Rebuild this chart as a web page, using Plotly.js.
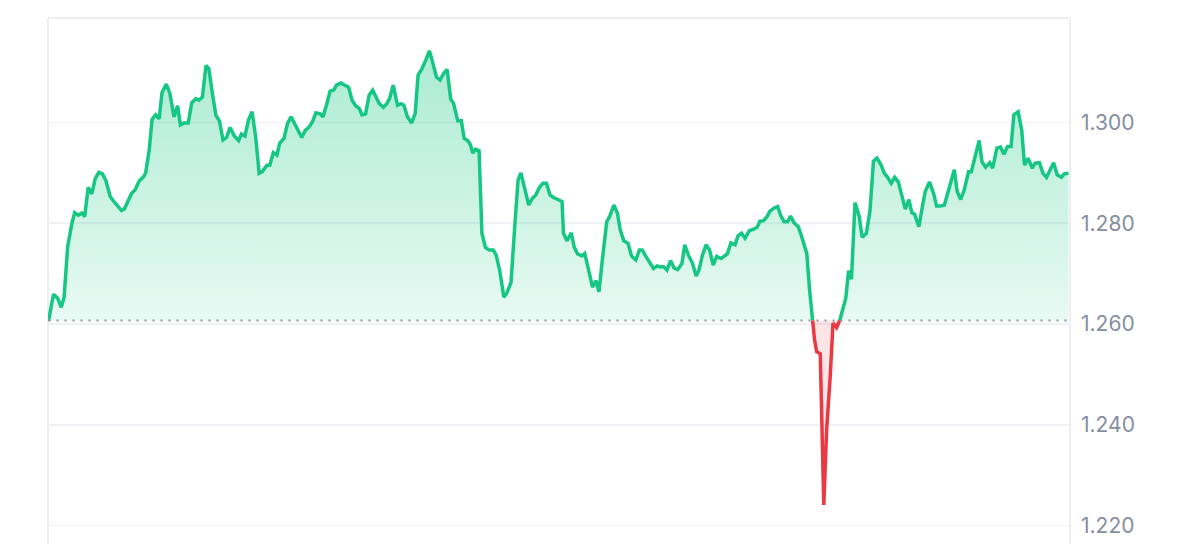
<!DOCTYPE html>
<html>
<head>
<meta charset="utf-8">
<script src="https://cdn.plot.ly/plotly-3.0.1.min.js"></script>
<style>
  html, body { margin: 0; padding: 0; background: #ffffff; }
  #chart { width: 1200px; height: 544px; }
</style>
</head>
<body>
<div id="chart"></div>
<script>
// minutes since start of the 24h window
const minutes = [
  0,7,13,18,22,27,33,37,42,47,
  51,56,61,66,71,76,81,87,91,98,
  103,107,113,117,122,128,134,137,142,146,
  151,156,160,166,171,177,182,186,191,197,
  202,208,212,217,222,226,231,236,241,246,
  251,256,262,268,272,277,282,287,292,297,
  301,308,312,317,322,326,332,337,342,348,
  352,357,362,367,372,377,383,387,392,397,
  402,406,412,417,423,428,433,438,442,447,
  452,457,461,466,472,477,481,486,492,497,
  501,506,512,517,521,526,532,537,541,547,
  552,557,562,567,571,577,582,586,591,595,
  598,602,607,611,616,621,627,631,636,642,
  646,652,657,662,666,672,677,682,687,692,
  697,702,707,712,718,724,726,731,737,741,
  746,752,756,762,767,772,776,781,787,791,
  797,802,806,811,817,822,828,833,837,843,
  849,853,858,863,867,872,877,882,887,893,
  897,902,908,913,917,922,927,932,937,942,
  948,952,957,962,968,972,977,982,988,994,
  999,1003,1008,1013,1017,1023,1028,1032,1037,1042,
  1046,1051,1057,1061,1065,1069,1073,1080,1083,1088,
  1093,1097,1102,1106,1111,1115,1119,1124,1128,1132,
  1137,1143,1147,1153,1158,1163,1168,1174,1178,1183,
  1188,1193,1198,1202,1208,1213,1217,1221,1227,1232,
  1236,1242,1248,1252,1258,1263,1267,1272,1277,1281,
  1286,1291,1297,1301,1306,1312,1316,1321,1327,1331,
  1337,1342,1347,1352,1357,1361,1367,1372,1376,1381,
  1387,1391,1397,1402,1407,1412,1417,1422,1428,1432,1438
];

const prices = [
  1.2606,1.2659,1.2651,1.2633,1.2653,1.2753,1.2800,1.2821,1.2816,1.2820,
  1.2813,1.2871,1.2858,1.2889,1.2901,1.2898,1.2884,1.2853,1.2845,1.2832,
  1.2825,1.2828,1.2847,1.2859,1.2866,1.2884,1.2892,1.2900,1.2945,1.3006,
  1.3015,1.3007,1.3059,1.3076,1.3058,1.3011,1.3033,1.2995,1.2999,1.2999,
  1.3039,1.3047,1.3044,1.3050,1.3113,1.3107,1.3058,1.3014,1.3003,1.2965,
  1.2970,1.2990,1.2973,1.2964,1.2977,1.2973,1.3005,1.3021,1.2972,1.2899,
  1.2902,1.2915,1.2915,1.2940,1.2935,1.2959,1.2968,1.2998,1.3011,1.2995,
  1.2982,1.2970,1.2984,1.2990,1.3001,1.3019,1.3017,1.3011,1.3035,1.3062,
  1.3064,1.3074,1.3078,1.3074,1.3070,1.3044,1.3033,1.3028,1.3015,1.3017,
  1.3054,1.3064,1.3052,1.3038,1.3030,1.3037,1.3048,1.3074,1.3034,1.3037,
  1.3034,1.3011,1.2999,1.3018,1.3094,1.3105,1.3124,1.3142,1.3122,1.3090,
  1.3084,1.3097,1.3105,1.3046,1.3038,1.3003,1.3003,1.2968,1.2964,1.2955,
  1.2939,1.2947,1.2944,1.2780,1.2752,1.2747,1.2747,1.2737,1.2707,1.2653,
  1.2661,1.2682,1.2787,1.2886,1.2900,1.2866,1.2836,1.2849,1.2856,1.2871,
  1.2879,1.2879,1.2856,1.2851,1.2847,1.2843,1.2780,1.2765,1.2781,1.2753,
  1.2739,1.2735,1.2740,1.2704,1.2673,1.2686,1.2664,1.2730,1.2803,1.2813,
  1.2836,1.2820,1.2787,1.2765,1.2760,1.2735,1.2727,1.2747,1.2747,1.2732,
  1.2720,1.2710,1.2715,1.2713,1.2714,1.2707,1.2726,1.2711,1.2708,1.2720,
  1.2757,1.2737,1.2720,1.2695,1.2707,1.2737,1.2757,1.2747,1.2717,1.2734,
  1.2730,1.2735,1.2739,1.2761,1.2757,1.2775,1.2780,1.2770,1.2785,1.2788,
  1.2792,1.2804,1.2805,1.2813,1.2824,1.2830,1.2833,1.2816,1.2803,1.2803,
  1.2814,1.2801,1.2793,1.2777,1.2761,1.2740,1.2667,1.2568,1.2545,1.2541,
  1.2241,1.2390,1.2495,1.2602,1.2593,1.2605,1.2624,1.2651,1.2706,1.2689,
  1.2841,1.2813,1.2772,1.2780,1.2823,1.2923,1.2929,1.2915,1.2900,1.2891,
  1.2879,1.2891,1.2882,1.2858,1.2828,1.2847,1.2821,1.2818,1.2793,1.2833,
  1.2863,1.2882,1.2858,1.2834,1.2834,1.2836,1.2858,1.2882,1.2906,1.2863,
  1.2847,1.2866,1.2902,1.2902,1.2932,1.2964,1.2922,1.2911,1.2920,1.2909,
  1.2949,1.2951,1.2937,1.2952,1.2952,1.3015,1.3021,1.2985,1.2915,1.2929,
  1.2909,1.2919,1.2920,1.2899,1.2891,1.2904,1.2920,1.2896,1.2891,1.2898,1.2899
];

const baseline = 1.2607;
const tickValues = [1.22, 1.24, 1.26, 1.28, 1.30];
const tickLabels = ['1.220', '1.240', '1.260', '1.280', '1.300'];

const GREEN = '#16c784';
const RED = '#ea3943';

// insert baseline crossings so colours switch exactly on the baseline
const xs = [], ys = [];
for (let i = 0; i < prices.length; i++) {
  if (i > 0) {
    const a = prices[i - 1] - baseline, b = prices[i] - baseline;
    if (a * b < 0) {
      const f = a / (a - b);
      xs.push(minutes[i - 1] + f * (minutes[i] - minutes[i - 1]));
      ys.push(baseline);
    }
  }
  xs.push(minutes[i]);
  ys.push(prices[i]);
}
const baseArr = xs.map(() => baseline);
const upFill = ys.map(v => Math.max(v, baseline));
const downFill = ys.map(v => Math.min(v, baseline));
const upLine = ys.map(v => (v >= baseline ? v : null));
const downLine = ys.map(v => (v <= baseline ? v : null));

const traces = [
  { x: xs, y: baseArr, mode: 'lines', line: { width: 0 }, hoverinfo: 'skip', showlegend: false },
  { x: xs, y: upFill, mode: 'lines', line: { width: 0 }, fill: 'tonexty',
    fillcolor: 'rgba(22,199,132,0.2)',
    fillgradient: { type: 'vertical', start: baseline, stop: 1.3142,
      colorscale: [[0, 'rgba(22,199,132,0.10)'], [1, 'rgba(22,199,132,0.36)']] },
    hoverinfo: 'skip', showlegend: false },
  { x: xs, y: baseArr, mode: 'lines', line: { width: 0 }, hoverinfo: 'skip', showlegend: false },
  { x: xs, y: downFill, mode: 'lines', line: { width: 0 }, fill: 'tonexty',
    fillcolor: 'rgba(234,57,67,0.13)', hoverinfo: 'skip', showlegend: false },
  { x: xs, y: upLine, mode: 'lines', connectgaps: false,
    line: { color: GREEN, width: 3.5, shape: 'linear' }, showlegend: false },
  { x: xs, y: downLine, mode: 'lines', connectgaps: false,
    line: { color: RED, width: 3.5, shape: 'linear' }, showlegend: false }
];

const borderColor = '#eceef1';
const layout = {
  width: 1200,
  height: 544,
  margin: { l: 48, r: 130, t: 18, b: 0 },
  paper_bgcolor: '#ffffff',
  plot_bgcolor: '#ffffff',
  showlegend: false,
  hovermode: false,
  font: { family: 'Inter, "Noto Sans", sans-serif', size: 21, color: '#858ea1' },
  xaxis: {
    range: [-0.7, 1440.1],
    showgrid: false, zeroline: false, showline: false,
    showticklabels: false, ticks: '', fixedrange: true
  },
  yaxis: {
    side: 'right',
    range: [1.21635, 1.32071],
    tickvals: tickValues,
    ticktext: tickLabels,
    ticks: '',
    ticklabelstandoff: 10,
    showgrid: true,
    gridcolor: '#eff1f4',
    gridwidth: 1.5,
    zeroline: false,
    showline: false,
    fixedrange: true,
    tickfont: { family: 'Inter, "Noto Sans", sans-serif', size: 21, color: '#858ea1' }
  },
  shapes: [
    { type: 'line', xref: 'paper', yref: 'paper', x0: 0, x1: 0, y0: 0, y1: 1,
      line: { color: borderColor, width: 2 }, layer: 'below' },
    { type: 'line', xref: 'paper', yref: 'paper', x0: 1, x1: 1, y0: 0, y1: 1,
      line: { color: borderColor, width: 2 }, layer: 'below' },
    { type: 'line', xref: 'paper', yref: 'paper', x0: 0, x1: 1, y0: 1, y1: 1,
      line: { color: borderColor, width: 2 }, layer: 'below' },
    { type: 'line', xref: 'x', yref: 'y', x0: minutes[0], x1: minutes[minutes.length - 1],
      y0: baseline, y1: baseline,
      line: { color: '#8e96a8', width: 2, dash: '2px,6px' }, layer: 'above' }
  ]
};

Plotly.newPlot('chart', traces, layout, { displayModeBar: false, staticPlot: true });
</script>
</body>
</html>
